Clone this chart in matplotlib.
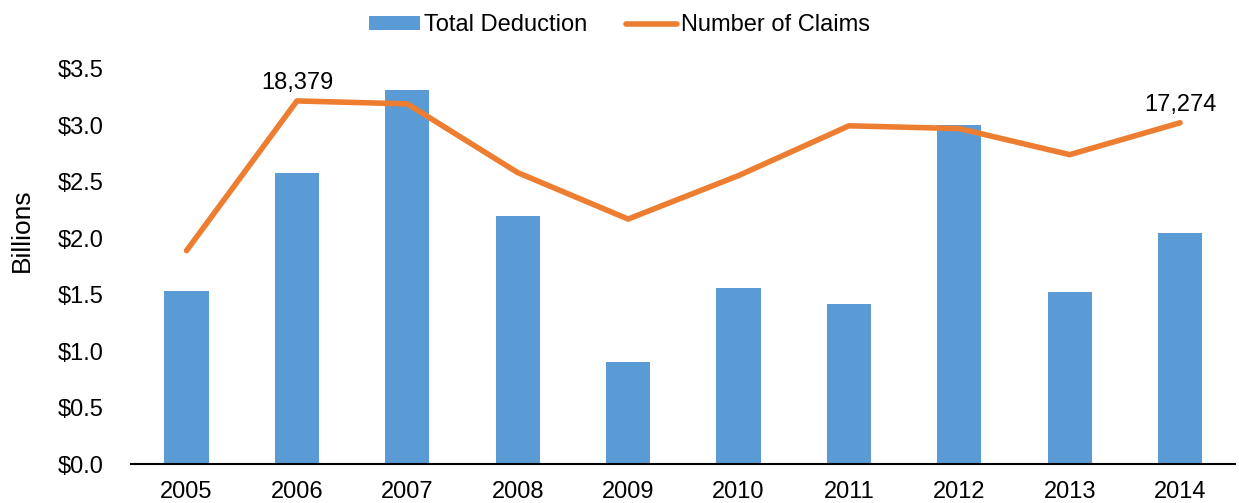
import matplotlib.pyplot as plt
import numpy as np

plt.rcParams['font.family'] = ['Liberation Sans', 'DejaVu Sans']

years = ['2005', '2006', '2007', '2008', '2009', '2010', '2011', '2012', '2013', '2014']
deduction = [1.53, 2.58, 3.31, 2.20, 0.90, 1.56, 1.42, 3.00, 1.52, 2.05]
claims = [10800, 18379, 18230, 14750, 12400, 14600, 17120, 16980, 15660, 17274]

fig = plt.figure(figsize=(12.39, 5.03), dpi=100)
ax = fig.add_axes([0.106, 0.0775, 0.891, 0.7855])
x = np.arange(len(years))

ax.bar(x, deduction, width=0.4, color='#5b9bd5', label='Total Deduction', zorder=2)
ax.set_ylim(0, 3.5)
ax.set_xlim(-0.5, len(years) - 0.5)
ax.set_yticks(np.arange(0, 3.51, 0.5))
ax.set_yticklabels(['$%.1f' % v for v in np.arange(0, 3.51, 0.5)])
ax.set_xticks(x)
ax.set_xticklabels(years)
ax.tick_params(length=0, labelsize=17, colors='black')
ax.tick_params(axis='x', pad=12)
ax.tick_params(axis='y', pad=20)
for s in ['top', 'right', 'left']:
    ax.spines[s].set_visible(False)
ax.spines['bottom'].set_linewidth(1.5)
fig.text(22 / 1239, 1 - 230 / 503, 'Billions', rotation=90, ha='center', va='center', fontsize=19)

ax2 = ax.twinx()
ax2.plot(x, claims, color='#ed7d31', linewidth=4, label='Number of Claims', solid_capstyle='round', zorder=3)
ax2.set_ylim(0, 20000)
ax2.set_yticks([])
for s in ['top', 'right', 'left', 'bottom']:
    ax2.spines[s].set_visible(False)

for i in [1, 9]:
    ax2.annotate(f'{claims[i]:,}', (x[i], claims[i]), xytext=(0, 5), textcoords='offset points',
                 ha='center', va='bottom', fontsize=17)

h1, l1 = ax.get_legend_handles_labels()
h2, l2 = ax2.get_legend_handles_labels()
fig.legend(h1 + h2, l1 + l2, loc='upper center', bbox_to_anchor=(0.5, 1.0), ncol=2, frameon=False,
           fontsize=17, handlelength=2.2, handleheight=0.5, handletextpad=0.17, columnspacing=1.6,
           borderaxespad=0.2)

fig.savefig('out.png', dpi=100)
